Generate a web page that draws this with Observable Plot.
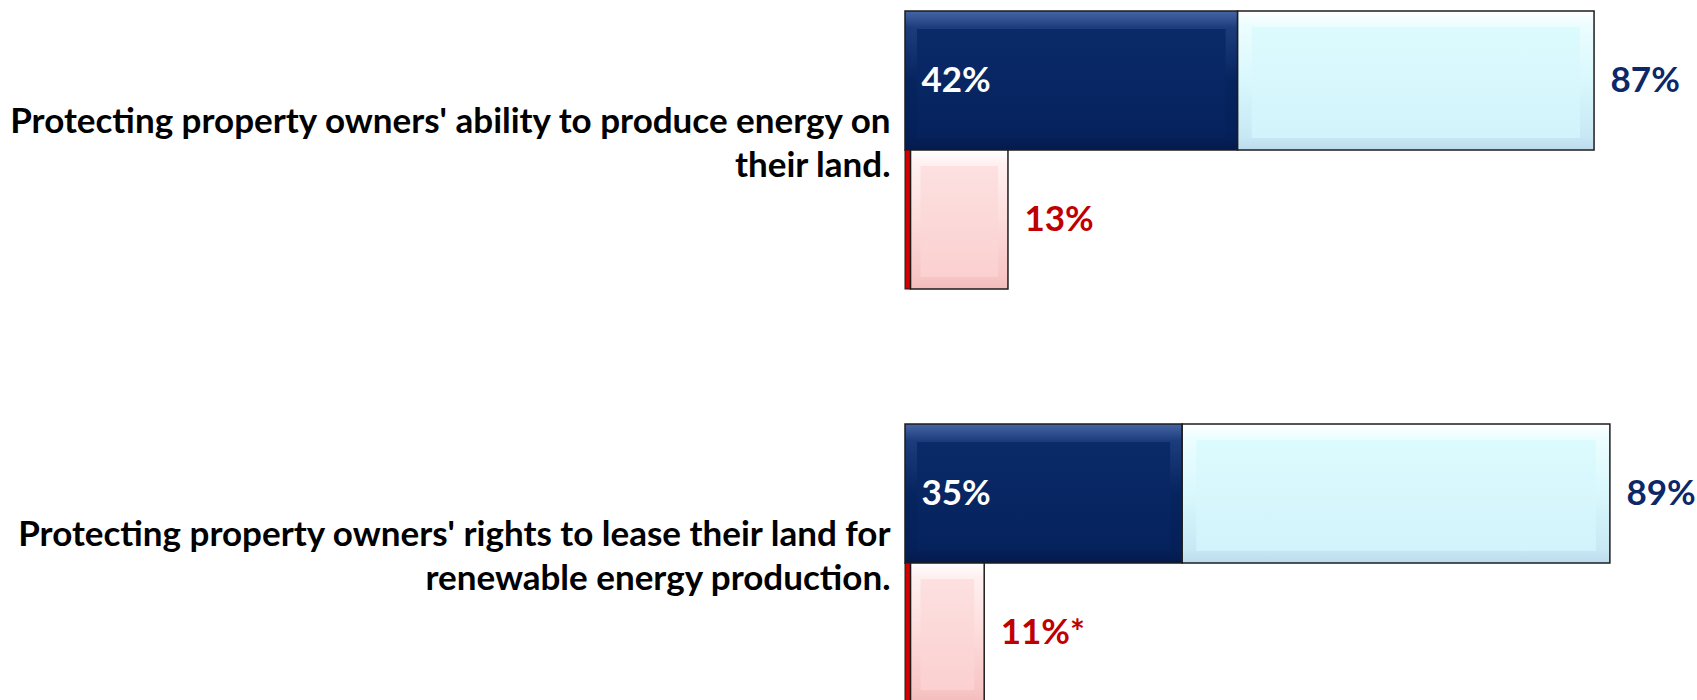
<!DOCTYPE html>
<html>
<head>
<meta charset="utf-8">
<script src="https://cdn.jsdelivr.net/npm/d3@7"></script>
<script src="https://cdn.jsdelivr.net/npm/@observablehq/plot@0.6"></script>
<style>
  html, body { margin: 0; padding: 0; background: #ffffff; overflow: hidden; }
  #chart svg { display: block; }
</style>
</head>
<body>
<div id="chart"></div>
<script>
// ---- data ----
const categories = [
  "Protecting property owners' ability to produce energy on\ntheir land.",
  "Protecting property owners' rights to lease their land for\nrenewable energy production."
];
const rows = ["Support", "Oppose"];
const strongSupport = [42, 35];
const totalSupport = [87, 89];
const strongOppose = [0.7, 0.7];
const totalOppose = [13, 10];
const strongSupportLabels = ["42%", "35%"];
const totalSupportLabels = ["87%", "89%"];
const totalOpposeLabels = ["13%", "11%*"];

// table built from the arrays
const table = categories.map((c, i) => ({
  category: c,
  strongSupport: strongSupport[i],
  totalSupport: totalSupport[i],
  strongOppose: strongOppose[i],
  totalOppose: totalOppose[i],
  sLabel: strongSupportLabels[i],
  tLabel: totalSupportLabels[i],
  oLabel: totalOpposeLabels[i]
}));

const FONT = "Lato, 'Open Sans', sans-serif";
const edge = "#1c1c1c";

const plot = Plot.plot({
  width: 1697,
  height: 703,
  marginLeft: 905,
  marginRight: 0,
  marginTop: 11,
  marginBottom: 0,
  style: { fontFamily: FONT, background: "transparent" },
  x: { domain: [0, 100], axis: null },
  y: { domain: rows, axis: null, paddingInner: 0, paddingOuter: 0 },
  fy: { domain: categories, axis: null, paddingInner: 0.326, paddingOuter: 0 },
  marks: [
    // strong support (navy, bevelled)
    Plot.barX(table, { fy: "category", y: () => "Support", x1: 0, x2: "strongSupport",
      fill: "url(#navyOuter)", stroke: edge, strokeWidth: 1.5 }),
    Plot.barX(table, { fy: "category", y: () => "Support", x1: 0, x2: "strongSupport",
      fill: "url(#navyFace)", insetLeft: 12, insetRight: 12, insetTop: 18, insetBottom: 12 }),
    // somewhat support (light cyan, bevelled)
    Plot.barX(table, { fy: "category", y: () => "Support", x1: "strongSupport", x2: "totalSupport",
      fill: "url(#cyanOuter)", stroke: edge, strokeWidth: 1.5 }),
    Plot.barX(table, { fy: "category", y: () => "Support", x1: "strongSupport", x2: "totalSupport",
      fill: "url(#cyanFace)", insetLeft: 14, insetRight: 14, insetTop: 16, insetBottom: 12 }),
    // strong oppose (red sliver)
    Plot.barX(table, { fy: "category", y: () => "Oppose", x1: 0, x2: "strongOppose",
      fill: "#d40000", stroke: edge, strokeWidth: 1 }),
    // somewhat oppose (pink, bevelled)
    Plot.barX(table, { fy: "category", y: () => "Oppose", x1: "strongOppose", x2: "totalOppose",
      fill: "url(#pinkOuter)", stroke: edge, strokeWidth: 1.5 }),
    Plot.barX(table, { fy: "category", y: () => "Oppose", x1: "strongOppose", x2: "totalOppose",
      fill: "url(#pinkFace)", insetLeft: 10, insetRight: 10, insetTop: 16, insetBottom: 12 }),
    // value labels
    Plot.text(table, { fy: "category", y: () => "Support", x: 0, text: "sLabel",
      textAnchor: "start", dx: 16, fill: "#ffffff", fontSize: 35, fontWeight: "bold" }),
    Plot.text(table, { fy: "category", y: () => "Support", x: "totalSupport", text: "tLabel",
      textAnchor: "start", dx: 16, fill: "#0d2868", fontSize: 35, fontWeight: "bold" }),
    Plot.text(table, { fy: "category", y: () => "Oppose", x: "totalOppose", text: "oLabel",
      textAnchor: "start", dx: 16, fill: "#c00000", fontSize: 35, fontWeight: "bold" }),
    // category labels
    Plot.text(table, { fy: "category", frameAnchor: "left", text: "category",
      textAnchor: "end", dx: -15, dy: -10, lineHeight: 1.27, fill: "#000000",
      fontSize: 35, fontWeight: "bold" })
  ]
});

// gradient definitions for the bevelled look
const defs = d3.select(plot).insert("defs", ":first-child");
function grad(id, stops, horizontal) {
  const g = defs.append("linearGradient").attr("id", id)
    .attr("x1", 0).attr("y1", 0)
    .attr("x2", horizontal ? 1 : 0).attr("y2", horizontal ? 0 : 1);
  stops.forEach(([o, c]) => g.append("stop").attr("offset", o).attr("stop-color", c));
}
grad("navyOuter", [[0, "#4566a6"], [0.12, "#1d3c7c"], [0.5, "#06245f"], [0.9, "#052059"], [1, "#041a4c"]]);
grad("navyFace", [[0, "#0a2a68"], [1, "#05225d"]]);
grad("cyanOuter", [[0, "#ffffff"], [0.1, "#ecfdff"], [0.5, "#d8f8fd"], [0.9, "#c8e8f5"], [1, "#bcdcee"]]);
grad("cyanFace", [[0, "#dcfbfe"], [1, "#d2f3fb"]]);
grad("pinkOuter", [[0, "#ffffff"], [0.1, "#fff0f0"], [0.5, "#fddcdc"], [0.9, "#f8c6c6"], [1, "#f4bcbc"]]);
grad("pinkFace", [[0, "#fde0e0"], [1, "#fbd0d0"]]);

document.getElementById("chart").appendChild(plot);
</script>
</body>
</html>
